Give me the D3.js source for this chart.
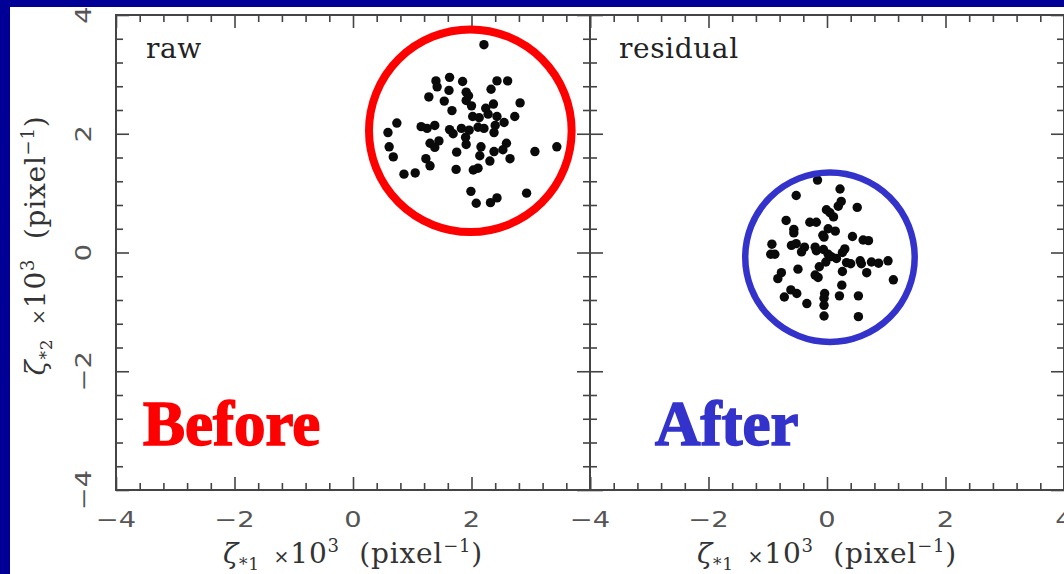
<!DOCTYPE html>
<html>
<head>
<meta charset="utf-8">
<script src="https://cdn.jsdelivr.net/npm/d3@7"></script>
<style>
    body { margin: 0; background: #000096; }
    svg { display: block; }
</style>
</head>
<body>
<svg id="chart" width="1064" height="574"></svg>
<script>
// ---- data (units: x10^3 pixel^-1) ----
const majorTicks = [-4, -2, 0, 2, 4];
const minorTicks = [-3.6, -3.2, -2.8, -2.4, -1.6, -1.2, -0.8, -0.4, 0.4, 0.8, 1.2, 1.6, 2.4, 2.8, 3.2, 3.6];
const leftTickLabels = [-4, -2, 0, 2];
const rightTickLabels = [-4, -2, 0, 2, 4];
const yTickLabels = [-4, -2, 0, 2, 4];

const rawX = [2.21, 1.40, 1.42, 1.63, 1.85, 2.43, 2.61, 1.62, 1.91, 1.95, 2.33, 1.28, 1.54, 1.91, 2.00,
    2.37, 2.82, 1.67, 2.24, 2.28, 2.02, 2.13, 2.43, 2.73, 0.74, 1.15, 1.25, 1.38, 1.63, 1.69, 1.83, 1.96,
    2.11, 2.21, 2.40, 2.55, 2.38, 0.59, 1.90, 1.91, 1.45, 1.30, 1.38, 0.61, 0.68, 2.16, 2.59, 2.53, 2.38,
    1.75, 3.07, 3.44, 2.14, 1.23, 1.30, 2.31, 2.65, 1.74, 2.03, 2.11, 0.86, 1.05, 1.99, 2.08, 2.32, 2.43, 2.93];
const rawY = [3.50, 2.89, 2.79, 2.95, 2.88, 2.89, 2.89, 2.73, 2.70, 2.64, 2.75, 2.62, 2.55, 2.56, 2.47,
    2.50, 2.52, 2.39, 2.43, 2.33, 2.29, 2.27, 2.29, 2.29, 2.18, 2.12, 2.09, 2.14, 2.07, 2.00, 2.09, 2.06,
    2.11, 2.09, 2.14, 2.19, 2.02, 2.02, 1.94, 1.82, 1.88, 1.84, 1.77, 1.78, 1.61, 1.78, 1.84, 1.73, 1.70,
    1.69, 1.70, 1.78, 1.63, 1.58, 1.46, 1.54, 1.58, 1.40, 1.39, 1.42, 1.32, 1.34, 1.03, 0.83, 0.84, 0.92, 1.00];

const resX = [-0.16, 0.22, -0.52, 0.24, 0.19, 0.51, -0.01, 0.05, 0.11, -0.69, -0.29, -0.18, -0.56, -0.56,
    0.02, 0.14, -0.07, -0.05, 0.43, 0.61, 0.70, -0.93, -0.60, -0.52, -0.38, -0.43, -0.20, -0.18, -0.06,
    0.02, 0.30, 0.26, -0.95, -0.88, 0.07, 0.16, -0.02, 0.33, 0.40, 0.56, 0.58, 0.75, 0.87, 1.03, -0.13,
    -0.49, 0.26, 0.67, -0.77, -0.83, -0.20, -0.15, 1.12, 0.25, -0.61, -0.51, -0.72, -0.04, -0.05, 0.21,
    0.53, -0.34, -0.05, -0.05, 0.53];
const resY = [1.22, 1.07, 0.96, 0.86, 0.78, 0.76, 0.72, 0.67, 0.60, 0.54, 0.51, 0.51, 0.39, 0.33,
    0.40, 0.36, 0.29, 0.26, 0.27, 0.21, 0.20, 0.14, 0.12, 0.15, 0.09, 0.01, 0.09, 0.03, 0.05,
    -0.03, 0.06, 0.00, -0.03, -0.03, -0.07, -0.10, -0.16, -0.17, -0.19, -0.14, -0.19, -0.16, -0.18, -0.14, -0.24,
    -0.28, -0.32, -0.34, -0.34, -0.44, -0.38, -0.42, -0.46, -0.55, -0.63, -0.69, -0.75, -0.69, -0.77, -0.73,
    -0.73, -0.86, -0.89, -1.07, -1.08];

// annotation rings: [cx, cy, r] in data units
const beforeRing = [1.98, 2.05, 1.71];
const afterRing = [0.05, -0.08, 1.43];

// ---- layout ----
const svg = d3.select("#chart");
const W = 1064, H = 574;

svg.append("rect")
    .attr("x", 10).attr("y", 7)
    .attr("width", W - 10).attr("height", H - 7)
    .attr("fill", "#fff");

const y = d3.scaleLinear().domain([-4, 4]).range([490, 15]);
const xLeft = d3.scaleLinear().domain([-4, 4]).range([116, 590]);
const xRight = d3.scaleLinear().domain([-4, 4]).range([590, 1064]);

const axisColor = "#444";
const fmt = d => d < 0 ? "\u2212" + Math.abs(d) : String(d);

function frameAxes(g, x) {
    const sides = [
        [d3.axisBottom(x), `translate(0,${y(-4)})`],
        [d3.axisTop(x), `translate(0,${y(4)})`],
        [d3.axisLeft(y), `translate(${x(-4)},0)`],
        [d3.axisRight(y), `translate(${x(4)},0)`]
    ];
    sides.forEach(([ax, tr]) => {
        [[minorTicks, -7], [majorTicks, -13]].forEach(([vals, len]) => {
            const a = g.append("g").attr("transform", tr)
                .call(ax.tickValues(vals).tickSize(len).tickSizeOuter(0).tickFormat(""));
            a.select(".domain").remove();
            a.selectAll("line").attr("stroke", axisColor).attr("stroke-width", 1.6);
        });
    });
    g.append("rect")
        .attr("x", x(-4)).attr("y", y(4))
        .attr("width", x(4) - x(-4)).attr("height", y(-4) - y(4))
        .attr("fill", "none").attr("stroke", axisColor).attr("stroke-width", 2);
}

function tickStyle(sel) {
    sel.attr("text-anchor", "middle")
        .attr("font-family", "'DejaVu Sans', sans-serif")
        .attr("font-size", 21)
        .attr("fill", "#555");
}

function xTickText(g, x, vals) {
    g.selectAll("text.xt").data(vals).join("text")
        .attr("class", "xt")
        .attr("transform", d => `translate(${x(d)},527) scale(1.3,1)`)
        .call(tickStyle)
        .text(fmt);
}

// axis label with sub/superscripts
function axisLabel(sel, idx) {
    const parts = [
        { t: "\u03b6", s: 28, dy: 0, it: true },
        { t: "*" + idx, s: 17, dy: 7 },
        { t: "  \u00d7", s: 19, dy: -7 },
        { t: "10", s: 28, dy: 0 },
        { t: "3", s: 18, dy: -11 },
        { t: "  (pixel", s: 28, dy: 11 },
        { t: "\u22121", s: 18, dy: -11 },
        { t: ")", s: 28, dy: 11 }
    ];
    sel.attr("font-family", "'DejaVu Serif', serif")
        .attr("fill", "#333")
        .attr("text-anchor", "middle")
        .attr("letter-spacing", 0.8)
        .style("white-space", "pre");
    parts.forEach(p => {
        sel.append("tspan")
            .attr("font-size", p.s)
            .attr("dy", p.dy)
            .attr("font-style", p.it ? "italic" : null)
            .text(p.t);
    });
}

function drawPoints(g, x, xs, ys) {
    g.selectAll("circle.pt").data(d3.zip(xs, ys)).join("circle")
        .attr("class", "pt")
        .attr("cx", d => x(d[0])).attr("cy", d => y(d[1]))
        .attr("r", 4.7)
        .attr("fill", "#0a0a0a");
}

function drawRing(g, x, ring, color, width) {
    g.append("circle")
        .attr("cx", x(ring[0])).attr("cy", y(ring[1]))
        .attr("r", x(ring[2]) - x(0))
        .attr("fill", "none")
        .attr("stroke", color).attr("stroke-width", width);
}

function bigWord(g, xPos, word, color) {
    g.append("text")
        .attr("x", xPos).attr("y", 445)
        .attr("font-family", "'Liberation Serif', serif")
        .attr("font-weight", "bold")
        .attr("font-size", 63)
        .attr("fill", color)
        .attr("stroke", color).attr("stroke-width", 1.6)
        .text(word);
}

function panelTitle(g, xPos, title) {
    g.append("text")
        .attr("x", xPos).attr("y", 58)
        .attr("font-family", "'DejaVu Serif', serif")
        .attr("font-size", 28)
        .attr("letter-spacing", 0.6)
        .attr("fill", "#222")
        .text(title);
}

// ---- left panel: raw ----
const gl = svg.append("g");
drawPoints(gl, xLeft, rawX, rawY);
frameAxes(gl, xLeft);
xTickText(gl, xLeft, leftTickLabels);

gl.selectAll("text.yt").data(yTickLabels).join("text")
    .attr("class", "yt")
    .attr("transform", d => `translate(91,${y(d)}) rotate(-90) scale(1.3,1)`)
    .call(tickStyle)
    .text(fmt);

gl.append("text").attr("x", xLeft(0)).attr("y", 563).call(axisLabel, 1);
gl.append("text")
    .attr("transform", `translate(45,${y(0) - 7}) rotate(-90)`)
    .call(axisLabel, 2);

panelTitle(gl, 146, "raw");
drawRing(gl, xLeft, beforeRing, "#ff0000", 8);
bigWord(gl, 143, "Before", "#ff0000");

// ---- right panel: residual ----
const gr = svg.append("g");
drawPoints(gr, xRight, resX, resY);
frameAxes(gr, xRight);
xTickText(gr, xRight, rightTickLabels);
gr.append("text").attr("x", xRight(0)).attr("y", 563).call(axisLabel, 1);

panelTitle(gr, 619, "residual");
drawRing(gr, xRight, afterRing, "#3333cc", 6.5);
bigWord(gr, 655, "After", "#3333cc");
</script>
</body>
</html>
